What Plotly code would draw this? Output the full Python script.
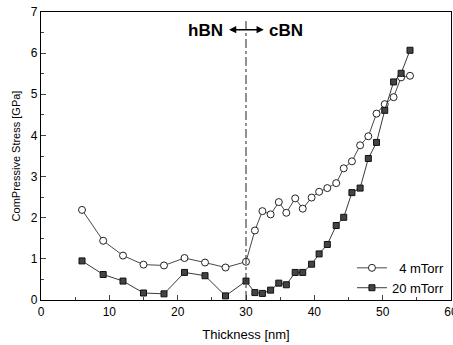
import plotly.graph_objects as go

x_vals = [6.0, 9.1, 12.0, 15.0, 18.0, 21.0, 24.0, 27.0, 30.0, 31.3, 32.4, 33.6, 34.8, 35.9,
          37.2, 38.3, 39.6, 40.7, 41.9, 43.2, 44.3, 45.5, 46.7, 47.9, 49.1, 50.3, 51.6, 52.7, 54.0]
stress_4mtorr = [2.19, 1.44, 1.08, 0.86, 0.84, 1.02, 0.91, 0.79, 0.93, 1.69, 2.16, 2.08, 2.38, 2.12,
                 2.47, 2.22, 2.49, 2.63, 2.72, 2.84, 3.20, 3.37, 3.76, 3.98, 4.53, 4.76, 4.93, 5.41, 5.45]
stress_20mtorr = [0.95, 0.62, 0.46, 0.17, 0.15, 0.67, 0.59, 0.10, 0.46, 0.18, 0.16, 0.24, 0.41, 0.37,
                  0.67, 0.67, 0.87, 1.12, 1.35, 1.81, 2.01, 2.61, 2.72, 3.44, 3.83, 4.61, 5.30, 5.51, 6.07]
series_names = ["\u00a0\u00a04 mTorr", "20 mTorr"]
boundary_x = 30

fig = go.Figure()
fig.add_trace(go.Scatter(
    x=x_vals, y=stress_4mtorr, name=series_names[0], mode="lines+markers",
    line=dict(color="#333333", width=0.9),
    marker=dict(symbol="circle", size=7, color="white", line=dict(color="#222222", width=1)),
))
fig.add_trace(go.Scatter(
    x=x_vals, y=stress_20mtorr, name=series_names[1], mode="lines+markers",
    line=dict(color="#222222", width=0.9),
    marker=dict(symbol="square", size=6, color="#444444", line=dict(color="#111111", width=1)),
))

fig.add_shape(type="line", x0=boundary_x, x1=boundary_x, y0=0, y1=6.78, xref="x", yref="y",
              line=dict(color="#222222", width=1, dash="dashdot"))

font_bold = dict(family="Liberation Sans, Arial", size=17, color="black")
fig.add_annotation(x=24.0, y=6.55, text="<b>hBN</b>", showarrow=False, font=font_bold)
fig.add_annotation(x=35.8, y=6.55, text="<b>cBN</b>", showarrow=False, font=font_bold)
fig.add_annotation(x=32.6, y=6.57, ax=27.3, ay=6.57, axref="x", ayref="y", text="",
                   showarrow=True, arrowhead=2, arrowside="end+start", arrowwidth=1.6,
                   arrowsize=0.9, arrowcolor="black")

tickfont = dict(family="Liberation Sans, Arial", size=12, color="black")
fig.update_xaxes(range=[0, 60], tickvals=[0, 10, 20, 30, 40, 50, 60], ticks="inside", ticklen=5,
                 minor=dict(dtick=5, ticks="inside", ticklen=3, tick0=0),
                 showline=True, linecolor="black", linewidth=1.2, mirror=True,
                 showgrid=False, zeroline=False, tickfont=tickfont, automargin=False,
                 ticklabeloverflow="allow",
                 title=dict(text="Thickness [nm]", font=dict(family="Liberation Sans, Arial", size=13), standoff=12))
fig.update_yaxes(range=[0, 7], dtick=1, ticks="inside", ticklen=5,
                 minor=dict(dtick=0.5, ticks="inside", ticklen=3),
                 showline=True, linecolor="black", linewidth=1.2, mirror=True,
                 showgrid=False, zeroline=False, tickfont=tickfont, automargin=False,
                 ticklabeloverflow="allow",
                 title=dict(text="ComPressive Stress [GPa]", font=dict(family="Liberation Sans, Arial", size=11), standoff=7))

fig.update_layout(
    width=453, height=345,
    margin=dict(l=41, r=2, t=12, b=45),
    plot_bgcolor="white", paper_bgcolor="white",
    font=dict(family="Liberation Sans, Arial", color="black"),
    legend=dict(x=0.995, y=-0.01, xanchor="right", yanchor="bottom", bgcolor="rgba(0,0,0,0)",
                font=dict(family="Liberation Sans, Arial", size=13), itemwidth=30, tracegroupgap=0),
    showlegend=True,
)

fig.write_html("out.html", config={"displayModeBar": False},
               post_script="document.body.style.margin='0';document.body.style.overflow='hidden';")
